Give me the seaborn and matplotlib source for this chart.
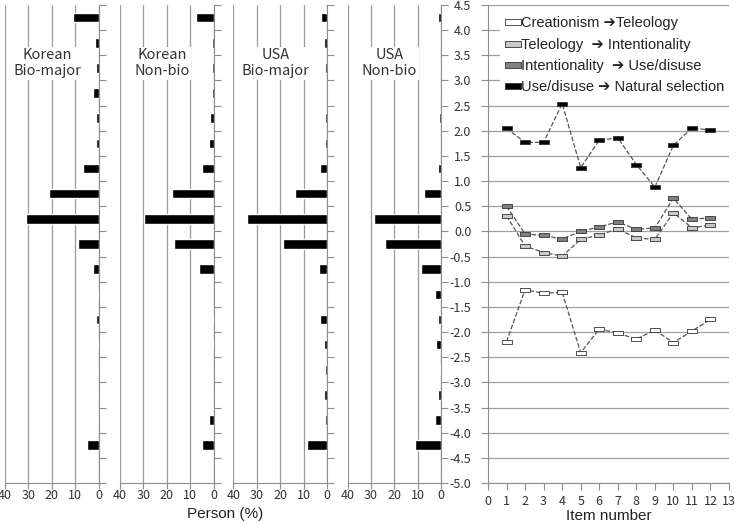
import numpy as np
import pandas as pd
import seaborn as sns
import matplotlib.pyplot as plt
from matplotlib.lines import Line2D

# bin centres of the score histogram (0.5 wide bins)
bins = [4.25, 3.75, 3.25, 2.75, 2.25, 1.75, 1.25, 0.75, 0.25, -0.25,
        -0.75, -1.25, -1.75, -2.25, -2.75, -3.25, -3.75, -4.25, -4.75]

korean_bio = [11.0, 1.3, 1.2, 2.3, 1.2, 1.2, 6.7, 21.2, 31.2, 8.7,
              2.3, 0.4, 1.2, 0.4, 0, 0, 0, 5.0, 0]
korean_non = [7.4, 0.5, 0.5, 0.5, 1.3, 1.9, 5.0, 17.6, 29.9, 16.7,
              6.0, 0, 0.3, 0.3, 0, 0, 1.9, 5.1, 0]
usa_bio = [2.4, 1.2, 0.7, 0, 0.7, 0.7, 3.1, 13.6, 34.3, 18.9,
           3.6, 0, 3.1, 1.3, 0.7, 1.2, 0.7, 8.7, 0]
usa_non = [1.1, 0, 0, 0, 0.7, 0, 1.1, 7.4, 28.5, 23.9,
           8.6, 2.6, 1.1, 2.1, 0.3, 1.4, 2.6, 11.0, 0]

groups = ['Korean\nBio-major', 'Korean\nNon-bio', 'USA\nBio-major', 'USA\nNon-bio']
hists = [korean_bio, korean_non, usa_bio, usa_non]

items = list(range(1, 13))
creat_tele = [-2.19, -1.16, -1.23, -1.21, -2.41, -1.94, -2.02, -2.14, -1.96, -2.21, -1.98, -1.75]
tele_int = [0.31, -0.29, -0.42, -0.49, -0.16, -0.07, 0.05, -0.13, -0.16, 0.37, 0.07, 0.13]
int_use = [0.50, -0.05, -0.08, -0.15, 0.00, 0.09, 0.19, 0.04, 0.07, 0.66, 0.24, 0.27]
use_nat = [2.05, 1.77, 1.77, 2.54, 1.27, 1.81, 1.86, 1.33, 0.88, 1.71, 2.06, 2.01]

labels = ['Creationism \u2794Teleology', 'Teleology  \u2794 Intentionality',
          'Intentionality  \u2794 Use/disuse', 'Use/disuse \u2794 Natural selection']
series = [creat_tele, tele_int, int_use, use_nat]
fills = ['white', '#c8c8c8', '#808080', 'black']

sns.set_style('white')
plt.rcParams['font.family'] = ['Noto Sans CJK KR', 'DejaVu Sans']
latin = ['Liberation Sans', 'DejaVu Sans']

W, H = 738, 523
fig = plt.figure(figsize=(W / 100, H / 100), dpi=100)
bottom = (H - 483) / H
height = 478 / H
yticks = np.arange(-5, 4.51, 0.5)
spine_c = '#8c8c8c'

rect = [(-2.5, -1), (2.5, -1), (2.5, 1), (-2.5, 1), (-2.5, -1)]
rect_leg = [(-3, -1), (3, -1), (3, 1), (-3, 1), (-3, -1)]

for i, (name, vals) in enumerate(zip(groups, hists)):
    left = [5, 120, 233.5, 347.5][i]
    ax = fig.add_axes([left / W, bottom, 93.5 / W, height])
    sns.barplot(x=vals, y=bins, orient='h', native_scale=True, color='black',
                saturation=1, width=0.38, ax=ax, zorder=3)
    ax.set_xlim(40, 0)
    ax.set_ylim(-5, 4.5)
    ax.set_xticks([40, 30, 20, 10, 0])
    ax.set_yticks(yticks)
    ax.yaxis.tick_right()
    ax.set_yticklabels([])
    ax.grid(axis='x', color='#9a9a9a', lw=0.9)
    ax.grid(axis='y', visible=False)
    for s in ['left', 'top']:
        ax.spines[s].set_visible(False)
    for s in ['right', 'bottom']:
        ax.spines[s].set_color(spine_c)
    ax.tick_params(axis='y', length=5, color=spine_c, right=True)
    ax.tick_params(axis='x', length=4, color=spine_c, labelsize=9, pad=0.5,
                   labelcolor='#333333', bottom=True)
    ax.set_xlabel('')
    ax.set_ylabel('')
    ax.text(0.45, 0.878, name, transform=ax.transAxes, ha='center', va='center',
            fontsize=10.5, color='#333333', linespacing=1.2, zorder=4,
            bbox=dict(fc='white', ec='none', pad=1))

axr = fig.add_axes([488 / W, bottom, 241 / W, height])
for vals, fc in zip(series, fills):
    sns.lineplot(x=items, y=vals, ax=axr, color='#555555', linestyle='--', lw=0.9,
                 marker=rect, markersize=7.2, markerfacecolor=fc,
                 markeredgecolor='#333333', markeredgewidth=0.6)
axr.set_xlim(0, 13)
axr.set_ylim(-5, 4.5)
axr.set_xticks(range(0, 14))
axr.set_yticks(yticks)
axr.set_yticklabels([f'{v:.1f}' for v in yticks])
axr.grid(axis='y', color='#a0a0a0', lw=0.9)
axr.grid(axis='x', visible=False)
for s in ['right', 'top']:
    axr.spines[s].set_visible(False)
for s in ['left', 'bottom']:
    axr.spines[s].set_color(spine_c)
axr.tick_params(axis='y', length=5, color=spine_c, labelsize=9, pad=7,
                labelcolor='#333333', left=True)
axr.tick_params(axis='x', length=5, color=spine_c, labelsize=9, pad=3.5,
                labelcolor='#333333', bottom=True)
axr.set_xlabel('')
axr.set_ylabel('')

handles = [Line2D([], [], linestyle='none', marker=rect_leg, markersize=11,
                  markerfacecolor=fc, markeredgecolor='#333333', markeredgewidth=0.6)
           for fc in fills]
leg = axr.legend(handles, labels, loc='upper left', bbox_to_anchor=(0.05, 0.99),
                 frameon=True, facecolor='white', edgecolor='none', framealpha=1,
                 handlelength=0.9, handletextpad=0.1, labelspacing=0.5,
                 borderaxespad=0, borderpad=0.45,
                 prop={'family': latin, 'size': 10.5})
for t in leg.get_texts():
    t.set_color('#222222')

fig.text(225 / W, 1 - 514 / H, 'Person (%)', ha='center', va='center',
         fontsize=11, family=latin, color='#222222')
fig.text(609 / W, 1 - 516 / H, 'Item number', ha='center', va='center',
         fontsize=11, family=latin, color='#222222')

fig.savefig('out.png', dpi=100)
